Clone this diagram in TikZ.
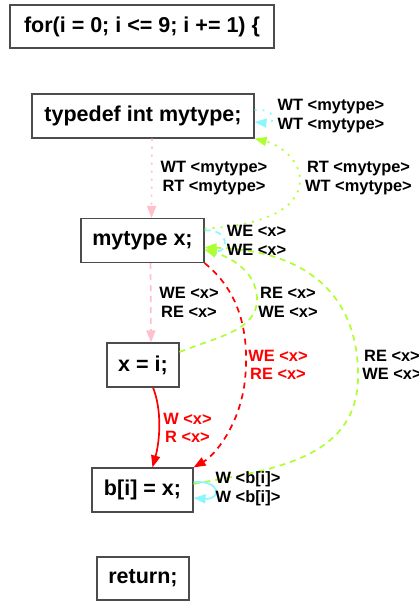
\documentclass[tikz,border=0pt]{standalone}
\usepackage{fontspec}
\setmainfont{Liberation Sans}
\usetikzlibrary{arrows.meta}
\definecolor{depPink}{RGB}{255,192,203}
\definecolor{depGreen}{RGB}{173,255,47}
\definecolor{depCyan}{RGB}{140,246,255}
\tikzset{
  >={Triangle[length=12pt,width=9pt]},
  stmt/.style={draw=black!70, line width=1.1pt, fill=white, minimum height=44pt,
    inner sep=0pt, font=\fontsize{21.5}{24}\selectfont\bfseries},
  dep/.style={font=\fontsize{16.4}{18.5}\selectfont\bfseries, align=center, inner sep=0pt},
  dotdep/.style={line width=1.7pt, dash pattern=on 2pt off 6pt},
  dashdep/.style={line width=1.7pt, dash pattern=on 6pt off 5pt},
  plaindep/.style={line width=1.7pt}
}
\begin{document}
\begin{tikzpicture}[x=1pt,y=-1pt]
      \useasboundingbox (0,0) rectangle (418,601);
      \node[stmt,minimum width=264pt,minimum height=43pt] (for) at (142,26.5) {for(i = 0; i <= 9; i += 1) \{};
      \node[stmt,minimum width=222pt] (td) at (143,116) {typedef int mytype;};
      \node[stmt,minimum width=123pt] (mx) at (142.5,240.5) {mytype x;};
      \node[stmt,minimum width=72pt] (xi) at (143,365) {x = i;};
      \node[stmt,minimum width=101pt] (bix) at (142.5,490) {b[i] = x;};
      \node[stmt,minimum width=92pt,minimum height=43pt] (ret) at (143,578.5) {return;};

      % type dependences
      \draw[->,dotdep,depCyan] ([yshift=6pt]td.east) .. controls +(22,-2) and +(22,2) .. ([yshift=-6pt]td.east);
      \draw[->,dotdep,depPink] ([xshift=9pt]td.south) -- ([xshift=9pt]mx.north);
      \draw[->,dotdep,depGreen] ([yshift=12pt]mx.east) .. controls (260,226) and (300,210) .. (300,180)
        .. controls (300,160) and (280,145) .. (td.south east);

      % element dependences
      \draw[->,dashdep,depCyan] ([yshift=10pt]mx.east) .. controls +(25,-2) and +(25,2) .. ([yshift=-10pt]mx.east);
      \draw[->,dashdep,depPink] ([xshift=8pt]mx.south) -- ([xshift=8pt]xi.north);
      \draw[->,dashdep,red] (mx.south east) .. controls (238,290) and (250,330) .. (245,380)
        .. controls (240,425) and (215,455) .. (bix.north east);
      \draw[->,dashdep,depGreen] ([yshift=13pt]xi.east) .. controls (220,336) and (258,330) .. (257,298)
        .. controls (256,272) and (232,258) .. ([yshift=-9pt]mx.east);
      \draw[->,dashdep,depGreen] ([yshift=6pt]bix.east) .. controls (270,470) and (355,460) .. (358,380)
        .. controls (360,290) and (300,250) .. ([yshift=-7pt]mx.east);

      % plain dependences
      \draw[->,plaindep,red] ([xshift=10pt]xi.south) .. controls (162,410) and (160,440) .. ([xshift=10pt]bix.north);
      \draw[->,plaindep,depCyan] ([yshift=8pt]bix.east) .. controls +(28,-2) and +(28,2) .. ([yshift=-8pt]bix.east);

      \node[dep] (l_td) at (331,116) {WT <mytype>\\WT <mytype>};
      \node[dep] (l_tdmx) at (214,178) {WT <mytype>\\RT <mytype>};
      \node[dep] (l_mxtd) at (358.5,178) {RT <mytype>\\WT <mytype>};
      \node[dep] (l_mx) at (256.5,240.5) {WE <x>\\WE <x>};
      \node[dep] (l_mxxi) at (189,302.5) {WE <x>\\RE <x>};
      \node[dep] (l_ximx) at (288,302.5) {RE <x>\\WE <x>};
      \node[dep,red] (l_mxbix) at (278,365) {WE <x>\\RE <x>};
      \node[dep] (l_bixmx) at (392,365) {RE <x>\\WE <x>};
      \node[dep,red] (l_xibix) at (187.5,428) {W <x>\\R <x>};
      \node[dep] (l_bix) at (248,489) {W <b[i]>\\W <b[i]>};
    \end{tikzpicture}
\end{document}
